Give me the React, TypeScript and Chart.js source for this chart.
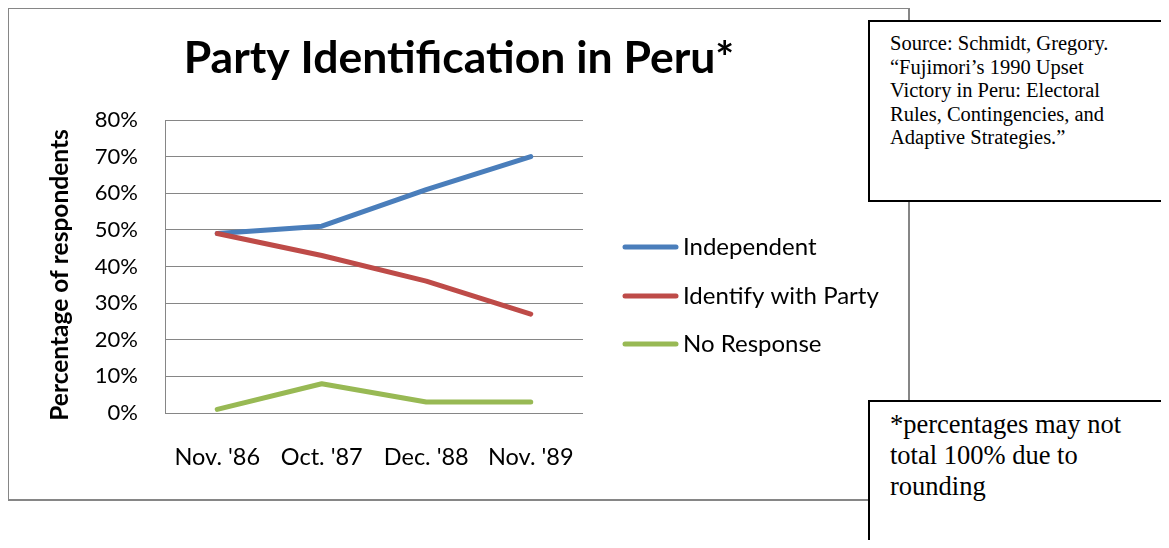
import React, { useEffect, useRef } from "react";
import { Chart, registerables } from "chart.js";

Chart.register(...registerables);

// ---- data ----
const categories = ["Nov. '86", "Oct. '87", "Dec. '88", "Nov. '89"];
const seriesNames = ["Independent", "Identify with Party", "No Response"];
const independent = [49, 51, 61, 70];
const identifyWithParty = [49, 43, 36, 27];
const noResponse = [1, 8, 3, 3];
const yMin = 0;
const yMax = 80;
const yStep = 10;

const chartTitle = "Party Identification in Peru*";
const yAxisTitle = "Percentage of respondents";
const sourceLines = [
  "Source: Schmidt, Gregory.",
  "\u201CFujimori\u2019s 1990 Upset",
  "Victory in Peru: Electoral",
  "Rules, Contingencies, and",
  "Adaptive Strategies.\u201D",
];
const noteLines = ["*percentages may not", "total 100% due to", "rounding"];

// ---- styling ----
const SANS = "Lato, 'Noto Sans', sans-serif";
const SERIF = "'Liberation Serif', 'Times New Roman', serif";
const seriesColors = ["#4A7EBB", "#BE4B48", "#98B954"];
const GRID = "#868686";

// Title, rotated axis title and the legend on the right of the plot
const decorations = {
  id: "decorations",
  afterDatasetsDraw(chart: any) {
    const ctx: CanvasRenderingContext2D = chart.ctx;
    ctx.save();
    ctx.fillStyle = "#000";
    ctx.textAlign = "center";
    ctx.textBaseline = "alphabetic";
    ctx.font = `bold 44.5px ${SANS}`;
    ctx.fillText(chartTitle, 451, 65);

    ctx.save();
    ctx.translate(60, 267);
    ctx.rotate(-Math.PI / 2);
    ctx.font = `bold 24.5px ${SANS}`;
    ctx.fillText(yAxisTitle, 0, 0);
    ctx.restore();

    const rowsY = [239, 288, 336];
    ctx.textAlign = "left";
    ctx.textBaseline = "middle";
    ctx.font = `24px ${SANS}`;
    chart.data.datasets.forEach((ds: any, i: number) => {
      const y = rowsY[i];
      ctx.strokeStyle = ds.borderColor;
      ctx.lineWidth = 5;
      ctx.lineCap = "round";
      ctx.beginPath();
      ctx.moveTo(617, y);
      ctx.lineTo(668, y);
      ctx.stroke();
      ctx.fillStyle = "#000";
      ctx.fillText(ds.label, 675, y);
    });
    ctx.restore();
  },
};

function PartyChart() {
  const ref = useRef<HTMLCanvasElement | null>(null);

  useEffect(() => {
    document.documentElement.style.overflow = "hidden";
    const canvas = ref.current;
    if (!canvas) return;
    const chart = new Chart(canvas, {
      type: "line",
      data: {
        labels: categories,
        datasets: [
          { label: seriesNames[0], data: independent, borderColor: seriesColors[0], order: 2 },
          { label: seriesNames[1], data: identifyWithParty, borderColor: seriesColors[1], order: 1 },
          { label: seriesNames[2], data: noResponse, borderColor: seriesColors[2], order: 0 },
        ],
      },
      options: {
        animation: false,
        responsive: false,
        devicePixelRatio: 1,
        layout: { padding: { left: 0, top: 112, right: 325, bottom: 0 } },
        plugins: {
          legend: { display: false },
          title: { display: false },
          tooltip: { enabled: false },
        },
        elements: {
          point: { radius: 0, hoverRadius: 0 },
          line: { borderWidth: 5, borderCapStyle: "round", borderJoinStyle: "round", tension: 0, fill: false },
        },
        scales: {
          x: {
            offset: true,
            grid: { display: false, drawTicks: false },
            border: { display: false },
            ticks: {
              font: { family: SANS, size: 23.5 },
              color: "#000",
              padding: 30,
              maxRotation: 0,
              autoSkip: false,
            },
            afterFit: (s: any) => {
              s.height = 85;
            },
          },
          y: {
            min: yMin,
            max: yMax,
            ticks: {
              stepSize: yStep,
              callback: (v: any) => `${v}%`,
              font: { family: SANS, size: 22 },
              color: "#000",
              padding: 27,
            },
            grid: { color: GRID, lineWidth: 1, drawTicks: false },
            border: { color: GRID, width: 1 },
            afterFit: (s: any) => {
              s.width = 157;
            },
          },
        },
      },
      plugins: [decorations],
    });
    return () => chart.destroy();
  }, []);

  return <canvas ref={ref} width={900} height={490} style={{ position: "absolute", left: 0, top: 0, width: 900, height: 490 }} />;
}

const boxBase: React.CSSProperties = {
  position: "absolute",
  boxSizing: "border-box",
  background: "#fff",
  border: "2px solid #000",
  fontFamily: SERIF,
  color: "#000",
  whiteSpace: "nowrap",
};

export default function App() {
  return (
    <div style={{ position: "relative", width: 1161, height: 540, overflow: "hidden", marginRight: -8, marginBottom: -8 }}>
      <div
        style={{
          position: "absolute",
          left: -1,
          top: -1,
          width: 903,
          height: 494,
          boxSizing: "border-box",
          border: `2px solid ${GRID}`,
          background: "#fff",
        }}
      />
      <PartyChart />
      <div
        style={{
          ...boxBase,
          left: 860,
          top: 12,
          width: 301,
          height: 182,
          padding: "10px 0 0 20px",
          fontSize: 20.5,
          lineHeight: "23.6px",
        }}
      >
        {sourceLines.map((l, i) => (
          <div key={i}>{l}</div>
        ))}
      </div>
      <div
        style={{
          ...boxBase,
          left: 860,
          top: 392,
          width: 301,
          height: 170,
          padding: "7px 0 0 20px",
          fontSize: 26.5,
          lineHeight: "31px",
        }}
      >
        {noteLines.map((l, i) => (
          <div key={i}>{l}</div>
        ))}
      </div>
    </div>
  );
}
